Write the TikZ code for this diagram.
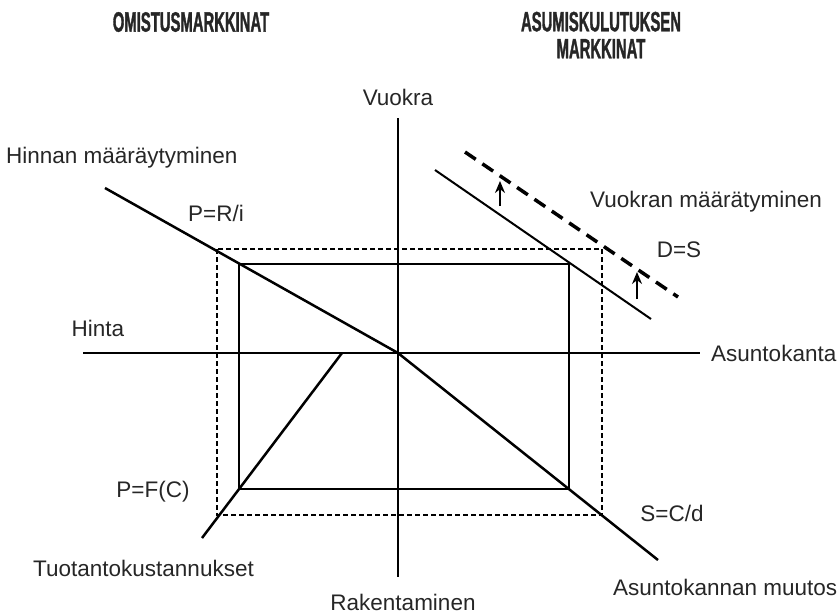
\documentclass[tikz,border=0pt]{standalone}
\usepackage{fontspec}
\setmainfont{Liberation Sans}
\newfontfamily\headfont[FakeStretch=0.53, BoldFeatures={FakeBold=1.2}]{Liberation Sans}
\usetikzlibrary{arrows.meta}
\tikzset{
  axisline/.style={line width=1.5pt, black},
  curve/.style={line width=2.5pt, black},
  boxsolid/.style={line width=1.6pt, black},
  boxdash/.style={line width=2pt, black, dash pattern=on 5pt off 3pt},
  shiftdash/.style={line width=3.5pt, black, dash pattern=on 13pt off 8pt},
  shiftarrow/.style={line width=1.6pt, -{Stealth[length=12pt,width=10pt]}},
  lbl/.style={font=\fontsize{22.5}{26}\selectfont, text=black!85, inner sep=0pt},
  head/.style={font=\headfont\bfseries\fontsize{28}{27}\selectfont, text=black!85, inner sep=0pt, align=center}
}
\begin{document}
\begin{tikzpicture}[x=1pt,y=-1pt]
\useasboundingbox (0,0) rectangle (837,614);
% coordinates
\coordinate (vtop) at (398,118);
\coordinate (vbot) at (398,577);
\coordinate (hleft) at (83,353);
\coordinate (hright) at (700,353);
\coordinate (o) at (398,353);
\coordinate (pri1) at (105,188);
\coordinate (stk2) at (658,560);
\coordinate (cst1) at (342,353);
\coordinate (cst2) at (202,538);
\coordinate (dem1) at (435,170);
\coordinate (dem2) at (651,319);
\coordinate (dsh1) at (465,152);
\coordinate (dsh2) at (678,297);
\coordinate (s1) at (239,264);
\coordinate (s2) at (569,489);
\coordinate (d1) at (217,249);
\coordinate (d2) at (602,515);
\coordinate (a1s) at (500,206);
\coordinate (a1e) at (500,181);
\coordinate (a2s) at (637,299);
\coordinate (a2e) at (637,272);
% axes
\draw[axisline] (vtop) -- (vbot);
\draw[axisline] (hleft) -- (hright);
% rectangles
\draw[boxdash] (d1) rectangle (d2);
\draw[boxsolid] (s1) rectangle (s2);
% curves
\draw[curve] (pri1) -- (o);
\draw[curve] (o) -- (stk2);
\draw[curve] (cst1) -- (cst2);
\draw[line width=2pt] (dem1) -- (dem2);
\draw[shiftdash] (dsh1) -- (dsh2);
\draw[shiftarrow] (a1s) -- (a1e);
\draw[shiftarrow] (a2s) -- (a2e);
% headings
\node[head] (h1) at (191,22) {OMISTUSMARKKINAT};
\node[head] (h2) at (601,35) {ASUMISKULUTUKSEN\\MARKKINAT};
% labels
\node[lbl] (vuokra) at (398,97) {Vuokra};
\node[lbl, anchor=west] (hinnan) at (6,158) {Hinnan määräytyminen};
\node[lbl] (pri) at (216,213) {P=R/i};
\node[lbl] (hinta) at (98,328) {Hinta};
\node[lbl, anchor=west] (vuokran) at (590,202) {Vuokran määrätyminen};
\node[lbl] (ds) at (679,250) {D=S};
\node[lbl, anchor=west] (asuntokanta) at (711,353) {Asuntokanta};
\node[lbl] (pfc) at (153,492) {P=F(C)};
\node[lbl] (scd) at (672,513) {S=C/d};
\node[lbl, anchor=east] (tuot) at (254,568) {Tuotantokustannukset};
\node[lbl] (rak) at (403,602) {Rakentaminen};
\node[lbl, anchor=west] (muutos) at (613,587) {Asuntokannan muutos};
\end{tikzpicture}
\end{document}
